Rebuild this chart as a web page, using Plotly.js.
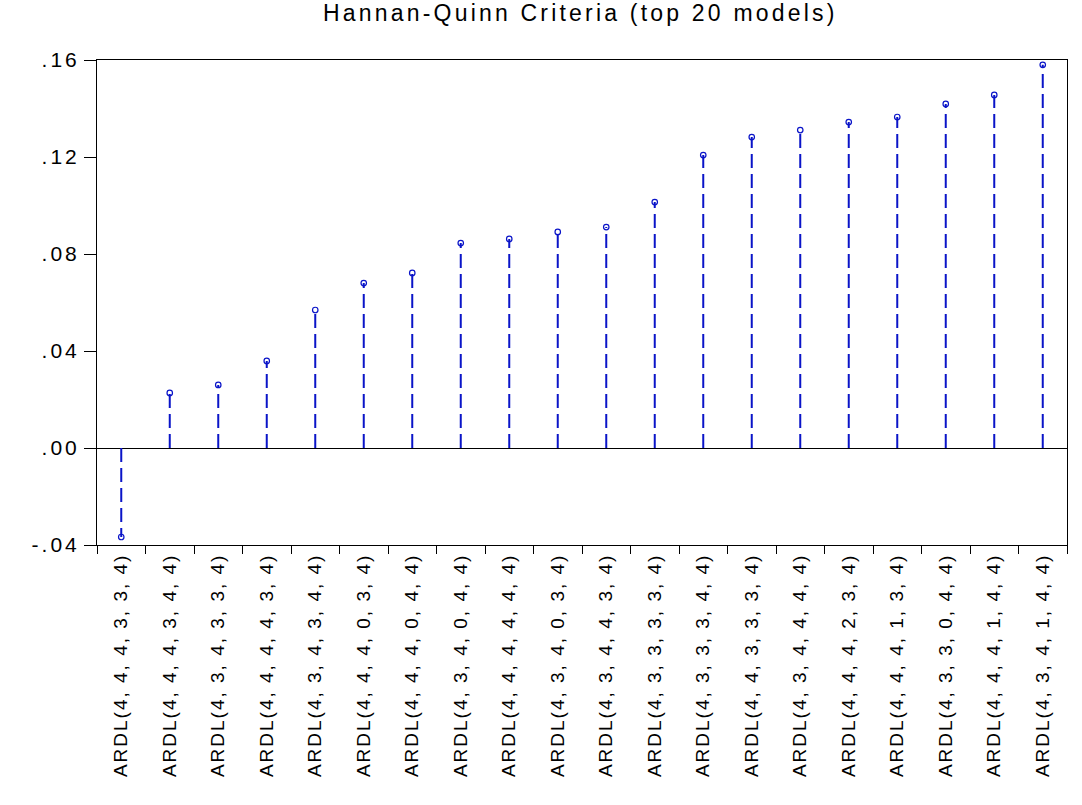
<!DOCTYPE html>
<html>
<head>
<meta charset="utf-8">
<script src="https://cdn.plot.ly/plotly-3.0.1.min.js"></script>
<style>
html,body{margin:0;padding:0;background:#fff;}
#chart{width:1082px;height:805px;}
#chart .gtitle{letter-spacing:3.2px;}
#chart .xtick text{letter-spacing:2px;}
#chart .ytick text{letter-spacing:3px;}
</style>
</head>
<body>
<div id="chart"></div>
<script>
const models = [
  "ARDL(4, 4, 4, 3, 3, 4)",
  "ARDL(4, 4, 4, 3, 4, 4)",
  "ARDL(4, 3, 4, 3, 3, 4)",
  "ARDL(4, 4, 4, 4, 3, 4)",
  "ARDL(4, 3, 4, 3, 4, 4)",
  "ARDL(4, 4, 4, 0, 3, 4)",
  "ARDL(4, 4, 4, 0, 4, 4)",
  "ARDL(4, 3, 4, 0, 4, 4)",
  "ARDL(4, 4, 4, 4, 4, 4)",
  "ARDL(4, 3, 4, 0, 3, 4)",
  "ARDL(4, 3, 4, 4, 3, 4)",
  "ARDL(4, 3, 3, 3, 3, 4)",
  "ARDL(4, 3, 3, 3, 4, 4)",
  "ARDL(4, 4, 3, 3, 3, 4)",
  "ARDL(4, 3, 4, 4, 4, 4)",
  "ARDL(4, 4, 4, 2, 3, 4)",
  "ARDL(4, 4, 4, 1, 3, 4)",
  "ARDL(4, 3, 3, 0, 4, 4)",
  "ARDL(4, 4, 4, 1, 4, 4)",
  "ARDL(4, 3, 4, 1, 4, 4)"
];
const hqValues = [
  -0.0367, 0.0227, 0.0260, 0.0359, 0.0569, 0.0680, 0.0722, 0.0845, 0.0862, 0.0891,
  0.0911, 0.1014, 0.1208, 0.1282, 0.1311, 0.1344, 0.1365, 0.1419, 0.1456, 0.1580
];
const yTickVals = [-0.04, 0.00, 0.04, 0.08, 0.12, 0.16];
const yTickText = ["-.04", ".00", ".04", ".08", ".12", ".16"];

// stems built from the data arrays
const stemX = [], stemY = [];
models.forEach((m, i) => { stemX.push(m, m, null); stemY.push(0, hqValues[i], null); });

const blue = '#0a14c8';
const traces = [
  {
    type: 'scatter', mode: 'lines', x: stemX, y: stemY,
    line: {color: blue, width: 2, dash: '14px,6px'},
    hoverinfo: 'skip', showlegend: false, connectgaps: false
  },
  {
    type: 'scatter', mode: 'markers', x: models, y: hqValues,
    marker: {symbol: 'circle-open', size: 5.5, color: blue, line: {width: 1.2, color: blue}},
    showlegend: false
  }
];

const layout = {
  width: 1082, height: 805,
  paper_bgcolor: '#fff', plot_bgcolor: '#fff',
  margin: {l: 97, r: 15, t: 60, b: 260},
  font: {family: '"Liberation Sans", Arial, sans-serif', color: '#000'},
  title: {text: 'Hannan-Quinn Criteria (top 20 models)', x: 0.5363, xanchor: 'center',
          yref: 'container', y: 0.984, yanchor: 'middle', font: {size: 23, color: '#000'}},
  xaxis: {
    type: 'category', categoryorder: 'array', categoryarray: models,
    range: [-0.5, 19.5],
    tickson: 'boundaries', ticks: 'outside', ticklen: 8, tickcolor: '#000', tickwidth: 1,
    tickangle: -90, tickfont: {size: 19, color: '#000'},
    showline: true, linecolor: '#000', linewidth: 1, mirror: true,
    showgrid: false, zeroline: false
  },
  yaxis: {
    range: [-0.04, 0.16],
    tickvals: yTickVals, ticktext: yTickText,
    ticks: 'outside', ticklen: 12, tickcolor: '#000', tickwidth: 1,
    tickfont: {size: 21, color: '#000'},
    showline: true, linecolor: '#000', linewidth: 1, mirror: true,
    showgrid: false, zeroline: true, zerolinecolor: '#000', zerolinewidth: 1
  }
};

Plotly.newPlot('chart', traces, layout, {displayModeBar: false, staticPlot: true});
</script>
</body>
</html>
